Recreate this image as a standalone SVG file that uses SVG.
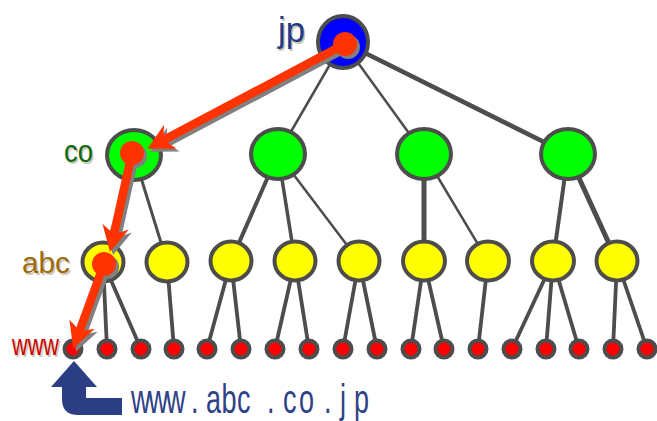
<svg xmlns="http://www.w3.org/2000/svg" width="657" height="421" viewBox="0 0 657 421">
  <defs>
    <style>
      .edge { stroke: #4d4d4d; fill: none; stroke-linecap: round; }
      .node { stroke: #4d4d4d; stroke-width: 4; }
      .tld { fill: #0000ff; }
      .sld { fill: #00ff00; }
      .org { fill: #ffff00; }
      .host { fill: #ff0000; }
      .lbl { font-family: "Liberation Sans", Arial, sans-serif; }
      .shade { fill: #cfc8b8; }
      .route { fill: none; stroke-width: 8.5; }
    </style>
    <marker id="headRed" markerUnits="userSpaceOnUse" viewBox="-10 -15 30 30" refX="0" refY="0" markerWidth="30" markerHeight="30" orient="auto">
      <path d="M18,0 L-8,-13.5 L0,0 L-8,13.5 Z" fill="#ff3300"/>
    </marker>
    <marker id="headShadow" markerUnits="userSpaceOnUse" viewBox="-10 -15 30 30" refX="0" refY="0" markerWidth="30" markerHeight="30" orient="auto">
      <path d="M18,0 L-8,-13.5 L0,0 L-8,13.5 Z" fill="#808080"/>
    </marker>
  </defs>

  <rect width="657" height="421" fill="#ffffff"/>

  <!-- tree edges -->
  <g id="edges">
    <line class="edge" x1="343" y1="42" x2="134" y2="155" stroke-width="3"/>
    <line class="edge" x1="343" y1="42" x2="278" y2="154" stroke-width="2.5"/>
    <line class="edge" x1="343" y1="42" x2="424" y2="154" stroke-width="2.5"/>
    <line class="edge" x1="343" y1="42" x2="568" y2="154" stroke-width="4.5"/>

    <line class="edge" x1="134" y1="155" x2="103" y2="262" stroke-width="3.5"/>
    <line class="edge" x1="134" y1="155" x2="167" y2="262" stroke-width="3"/>
    <line class="edge" x1="278" y1="154" x2="231" y2="261" stroke-width="4"/>
    <line class="edge" x1="278" y1="154" x2="295" y2="261" stroke-width="3.5"/>
    <line class="edge" x1="278" y1="154" x2="359" y2="261" stroke-width="2.5"/>
    <line class="edge" x1="424" y1="154" x2="424" y2="261" stroke-width="5"/>
    <line class="edge" x1="424" y1="154" x2="488" y2="261" stroke-width="2.5"/>
    <line class="edge" x1="568" y1="154" x2="553" y2="261" stroke-width="4"/>
    <line class="edge" x1="568" y1="154" x2="617" y2="261" stroke-width="5"/>

    <g stroke-width="3.8">
      <line class="edge" x1="103" y1="262" x2="73" y2="349"/>
      <line class="edge" x1="103" y1="262" x2="107" y2="349"/>
      <line class="edge" x1="103" y1="262" x2="141" y2="349"/>
      <line class="edge" x1="167" y1="262" x2="174" y2="349"/>
      <line class="edge" x1="231" y1="261" x2="207" y2="349"/>
      <line class="edge" x1="231" y1="261" x2="241" y2="349"/>
      <line class="edge" x1="295" y1="261" x2="275" y2="349"/>
      <line class="edge" x1="295" y1="261" x2="309" y2="349"/>
      <line class="edge" x1="359" y1="261" x2="343" y2="349"/>
      <line class="edge" x1="359" y1="261" x2="377" y2="349"/>
      <line class="edge" x1="424" y1="261" x2="411" y2="349"/>
      <line class="edge" x1="424" y1="261" x2="444" y2="349"/>
      <line class="edge" x1="488" y1="261" x2="478" y2="349"/>
      <line class="edge" x1="553" y1="261" x2="512" y2="349"/>
      <line class="edge" x1="553" y1="261" x2="546" y2="349"/>
      <line class="edge" x1="553" y1="261" x2="579" y2="349"/>
      <line class="edge" x1="617" y1="261" x2="613" y2="349"/>
      <line class="edge" x1="617" y1="261" x2="647" y2="349"/>
    </g>
  </g>

  <!-- top-level domain -->
  <g id="node-jp"><ellipse class="node tld" cx="343" cy="42" rx="25" ry="26"/></g>

  <!-- second-level domains -->
  <g id="node-co"><ellipse class="node sld" cx="134" cy="155" rx="27" ry="25"/></g>
  <g id="node-l2-2"><ellipse class="node sld" cx="278" cy="154" rx="27" ry="25"/></g>
  <g id="node-l2-3"><ellipse class="node sld" cx="424" cy="154" rx="27" ry="25"/></g>
  <g id="node-l2-4"><ellipse class="node sld" cx="568" cy="154" rx="27" ry="25"/></g>

  <!-- organisation domains -->
  <g id="node-abc"><ellipse class="node org" cx="103" cy="262" rx="20.5" ry="19.5"/></g>
  <g id="node-l3-2"><ellipse class="node org" cx="167" cy="262" rx="20.5" ry="19.5"/></g>
  <g id="node-l3-3"><ellipse class="node org" cx="231" cy="261" rx="20.5" ry="19.5"/></g>
  <g id="node-l3-4"><ellipse class="node org" cx="295" cy="261" rx="20.5" ry="19.5"/></g>
  <g id="node-l3-5"><ellipse class="node org" cx="359" cy="261" rx="20.5" ry="19.5"/></g>
  <g id="node-l3-6"><ellipse class="node org" cx="424" cy="261" rx="21" ry="19.5"/></g>
  <g id="node-l3-7"><ellipse class="node org" cx="488" cy="261" rx="21" ry="19.5"/></g>
  <g id="node-l3-8"><ellipse class="node org" cx="553" cy="261" rx="21" ry="19.5"/></g>
  <g id="node-l3-9"><ellipse class="node org" cx="617" cy="261" rx="20.5" ry="19.5"/></g>

  <!-- hosts -->
  <g id="node-www"><circle class="node host" cx="73" cy="349" r="8.5"/></g>
  <g id="node-h2"><circle class="node host" cx="107" cy="349" r="8.5"/></g>
  <g id="node-h3"><circle class="node host" cx="141" cy="349" r="8.5"/></g>
  <g id="node-h4"><circle class="node host" cx="174" cy="349" r="8.5"/></g>
  <g id="node-h5"><circle class="node host" cx="207" cy="349" r="8.5"/></g>
  <g id="node-h6"><circle class="node host" cx="241" cy="349" r="8.5"/></g>
  <g id="node-h7"><circle class="node host" cx="275" cy="349" r="8.5"/></g>
  <g id="node-h8"><circle class="node host" cx="309" cy="349" r="8.5"/></g>
  <g id="node-h9"><circle class="node host" cx="343" cy="349" r="8.5"/></g>
  <g id="node-h10"><circle class="node host" cx="377" cy="349" r="8.5"/></g>
  <g id="node-h11"><circle class="node host" cx="411" cy="349" r="8.5"/></g>
  <g id="node-h12"><circle class="node host" cx="444" cy="349" r="8.5"/></g>
  <g id="node-h13"><circle class="node host" cx="478" cy="349" r="8.5"/></g>
  <g id="node-h14"><circle class="node host" cx="512" cy="349" r="8.5"/></g>
  <g id="node-h15"><circle class="node host" cx="546" cy="349" r="8.5"/></g>
  <g id="node-h16"><circle class="node host" cx="579" cy="349" r="8.5"/></g>
  <g id="node-h17"><circle class="node host" cx="613" cy="349" r="8.5"/></g>
  <g id="node-h18"><circle class="node host" cx="647" cy="349" r="8.5"/></g>

  <!-- resolution route: shadow first, then the red path -->
  <g id="route-shadow" transform="translate(3,3)">
    <g class="route" stroke="#808080">
      <line x1="345" y1="44" x2="163.3" y2="140.3" marker-end="url(#headShadow)"/>
      <line x1="132" y1="153" x2="113.9" y2="234.4" marker-end="url(#headShadow)"/>
      <line x1="104" y1="264" x2="79.3" y2="331.6" marker-end="url(#headShadow)"/>
    </g>
    <g fill="#808080">
      <circle cx="345" cy="44" r="12"/>
      <circle cx="132" cy="153" r="12"/>
      <circle cx="104" cy="264" r="12"/>
    </g>
  </g>
  <g id="route">
    <g class="route" stroke="#ff3300">
      <line x1="345" y1="44" x2="163.3" y2="140.3" marker-end="url(#headRed)"/>
      <line x1="132" y1="153" x2="113.9" y2="234.4" marker-end="url(#headRed)"/>
      <line x1="104" y1="264" x2="79.3" y2="331.6" marker-end="url(#headRed)"/>
    </g>
    <g fill="#ff3300">
      <circle cx="345" cy="44" r="12"/>
      <circle cx="132" cy="153" r="12"/>
      <circle cx="104" cy="264" r="12"/>
    </g>
  </g>

  <!-- level labels with soft drop shadow -->
  <g id="labels" class="lbl">
    <text class="shade" x="279.5" y="43.5" font-size="35" textLength="27" lengthAdjust="spacingAndGlyphs">jp</text>
    <text x="278" y="42" font-size="35" fill="#263b86" textLength="27" lengthAdjust="spacingAndGlyphs">jp</text>
    <text class="shade" x="65.5" y="163.5" font-size="32" textLength="29" lengthAdjust="spacingAndGlyphs">co</text>
    <text x="64" y="162" font-size="32" fill="#0b6a0b" textLength="29" lengthAdjust="spacingAndGlyphs">co</text>
    <text class="shade" x="23.5" y="274.5" font-size="29" textLength="48" lengthAdjust="spacingAndGlyphs">abc</text>
    <text x="22" y="273" font-size="29" fill="#9c6b0c" textLength="48" lengthAdjust="spacingAndGlyphs">abc</text>
    <text class="shade" x="13.5" y="356.5" font-size="30" textLength="47" lengthAdjust="spacingAndGlyphs">www</text>
    <text x="12" y="355" font-size="30" fill="#cc0000" textLength="47" lengthAdjust="spacingAndGlyphs">www</text>
  </g>

  <!-- bent pointer to the host -->
  <path id="pointer" d="M51,387 L74,361 L97,387 L86,387 L86,398 L122,398 L122,415 L78,415 Q62,415 62,399 L62,387 Z" fill="#2d3f84"/>

  <!-- full domain name -->
  <text id="fqdn" class="lbl" font-size="41" fill="#2f4287" transform="scale(0.66,1)" y="413"
        x="198.5 225 251.5 289.4 312.1 335.6 359.1 404.5 428.8 453 490.9 515.2 536.4">www.abc.co.jp</text>
</svg>
